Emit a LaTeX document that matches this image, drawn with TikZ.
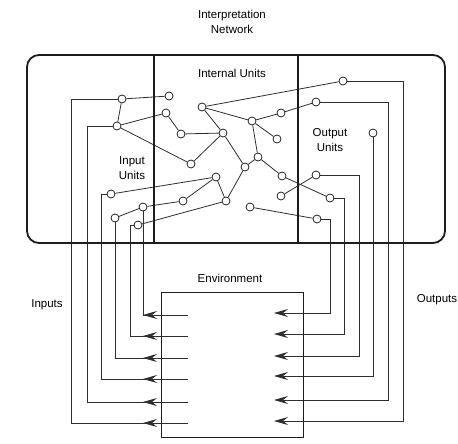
\documentclass[tikz,border=0pt]{standalone}
\usepackage{fontspec}
\setmainfont{Liberation Sans}
\usetikzlibrary{arrows.meta,backgrounds}
\definecolor{NetInk}{HTML}{1C1C1C}
\definecolor{WireInk}{HTML}{2E2E2E}
\tikzset{
  unit/.style={circle, draw=NetInk, fill=white, line width=0.75pt,
    minimum size=8pt, inner sep=0pt},
  link/.style={draw=WireInk, line width=0.8pt},
  feed/.style={link, -{Stealth[length=14pt, width=8pt, inset=5pt]}},
  frame/.style={draw=NetInk, line width=1.8pt, rounded corners=12pt},
  divider/.style={draw=NetInk, line width=1.8pt},
  envbox/.style={draw=NetInk, line width=0.9pt},
  caption/.style={font=\fontsize{11.5}{15}\selectfont, align=center, inner sep=0pt}
}

\begin{document}
\begin{tikzpicture}[x=1pt, y=-1pt]
  \useasboundingbox (0,0) rectangle (458,444);
  % frame of the network and its three parts
  \draw[frame] (27,55) rectangle (445,243);
  \draw[divider] (154,55) -- (154,243);
  \draw[divider] (298,55) -- (298,243);
  \node[caption] (nettitle) at (232,22) {Interpretation\\Network};
  \node[caption] (hidtitle) at (232,73) {Internal Units};
  \node[caption] (intitle) at (132,168) {Input\\Units};
  \node[caption] (outtitle) at (330,140) {Output\\Units};
  % environment
  \draw[envbox] (161,292) rectangle (303,437);
  \node[caption] (envtitle) at (230,278) {Environment};
  \node[caption] (inputs) at (47,305) {Inputs};
  \node[caption] (outputs) at (437,300) {Outputs};

  % input units
  \node[unit] (inA) at (122,99) {};
  \node[unit] (inB) at (117,126) {};
  \node[unit] (inC) at (111,194) {};
  \node[unit] (inD) at (143,207) {};
  \node[unit] (inE) at (115,218) {};
  \node[unit] (inF) at (138,225) {};
  % internal units
  \node[unit] (hG) at (169,96) {};
  \node[unit] (hH) at (166,113) {};
  \node[unit] (hJ) at (181,134) {};
  \node[unit] (hI) at (191,164) {};
  \node[unit] (hL) at (202,107) {};
  \node[unit] (hK) at (223,133) {};
  \node[unit] (hM) at (252,121) {};
  \node[unit] (hO) at (281,113) {};
  \node[unit] (hP) at (277,139) {};
  \node[unit] (hQ) at (258,157) {};
  \node[unit] (hN) at (245,167) {};
  \node[unit] (hR) at (216,177) {};
  \node[unit] (hS) at (183,201) {};
  \node[unit] (hT) at (226,201) {};
  \node[unit] (hU) at (282,176) {};
  \node[unit] (hV) at (281,196) {};
  \node[unit] (hW) at (250,207) {};
  % output units
  \node[unit] (outX) at (343,81) {};
  \node[unit] (outY) at (316,102) {};
  \node[unit] (outO) at (373,133) {};
  \node[unit] (outA) at (316,175) {};
  \node[unit] (outZ) at (330,198) {};
  \node[unit] (outB) at (317,219) {};

  \begin{scope}[on background layer]
    % connections between units
    \foreach \a/\b in {inA/inB, inA/hG, inB/hH, inB/hI, hH/hJ, hJ/hK, hI/hK,
      hL/hK, hL/hM, hL/outX, hM/hO, hO/outY, hM/hP, hM/hQ, hK/hN, hQ/hN,
      hN/hT, hQ/hU, hU/outZ, hV/outA, inC/hR, hR/hT, hR/hS, hS/inD,
      inD/inE, inF/hT, hW/outB}
      \draw[link] (\a) -- (\b);
    % environment to input units
    \foreach \u/\wx/\ry in {inD/143/315, inF/130/336, inE/115/358,
      inC/101/379, inB/87/402, inA/71/423} {
      \coordinate (wire) at (\wx,0);
      \coordinate (port) at (188,\ry);
      \coordinate (tip) at (143,\ry);
      \draw[link] (\u.center) -| (wire |- port) -- (port);
      \draw[feed] (port) -- (tip);
    }
    % output units to environment
    \foreach \u/\wx/\ry in {outB/330/313, outZ/344/334, outA/359/356,
      outO/373/376, outY/388/400, outX/403/421} {
      \coordinate (wire) at (\wx,0);
      \coordinate (port) at (274,\ry);
      \draw[feed] (\u.center) -| (wire |- port) -- (port);
    }
  \end{scope}
\end{tikzpicture}
\end{document}
